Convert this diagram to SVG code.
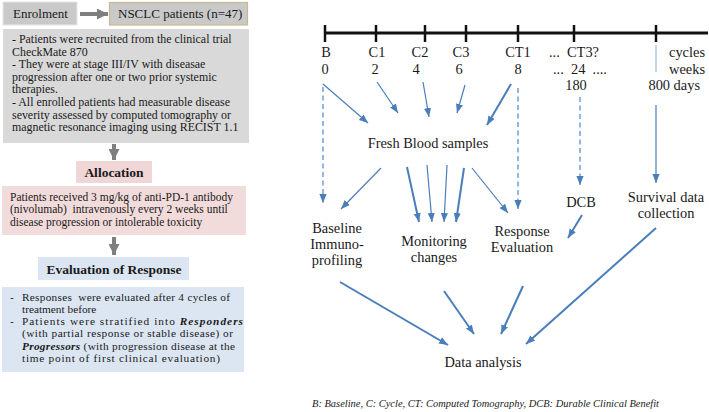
<svg xmlns="http://www.w3.org/2000/svg" width="709" height="412" viewBox="0 0 709 412">
<style>
  text { font-family: "Liberation Serif", "Times New Roman", serif; fill: #1a1a1a; }
  .lt { font-size: 11.9px; }
  .pt { font-size: 11.5px; }
  .bt { font-size: 11.3px; }
  .hd { font-size: 13px; }
  .bh { font-size: 13.5px; font-weight: bold; }
  .rt { font-size: 14.4px; }
  .mid { text-anchor: middle; }
  .end { text-anchor: end; }
  .bi { font-weight: bold; font-style: italic; }
  .cap { font-size: 10.5px; font-style: italic; }
  .gbox { fill: #d9d9d9; }
  .gray { stroke: #7f7f7f; stroke-width: 4; fill: none; }
  .bl { stroke: #4a7ebb; stroke-width: 1.2; fill: none; marker-end: url(#ah); }
  .blk { stroke: #4a7ebb; stroke-width: 2; fill: none; marker-end: url(#ah); }
  .dash { stroke: #5b8fd0; stroke-width: 1.3; stroke-dasharray: 5 3.5; fill: none; marker-end: url(#ah); }
  .tl { stroke: #111; stroke-width: 3; }
  .tk { stroke: #111; stroke-width: 2.5; }
</style>
<defs>
  <marker id="ah" viewBox="0 0 10 8" refX="10" refY="4" markerWidth="9" markerHeight="7.5" markerUnits="userSpaceOnUse" orient="auto">
    <path d="M0,0 L10,4 L0,8 z" fill="#4a7ebb"/>
  </marker>
  <marker id="gh" viewBox="0 0 10 10" refX="10" refY="5" markerWidth="11" markerHeight="11" markerUnits="userSpaceOnUse" orient="auto">
    <path d="M0,0 L10,5 L0,10 z" fill="#7f7f7f"/>
  </marker>
</defs>
<rect width="709" height="412" fill="#ffffff"/>

<!-- Left flow -->
<g id="enrolment">
  <rect x="3" y="2" width="74" height="23" fill="#c9c9c9" stroke="#e6e6e6" stroke-width="1"/>
  <text class="hd" x="13" y="18">Enrolment</text>
</g>
<g id="nsclc">
  <rect x="109.5" y="2.5" width="138" height="22.5" fill="#c9c9c9" stroke="#c8b98d" stroke-width="1.2"/>
  <text class="hd" x="118" y="18">NSCLC patients (n=47)</text>
</g>
<g id="criteria">
  <rect x="3" y="29" width="246" height="114" class="gbox"/>
  <text class="lt" x="12" y="43">- Patients were recruited from the clinical trial</text>
  <text class="lt" x="12" y="55.6">CheckMate 870</text>
  <text class="lt" x="12" y="68.2">- They were at stage III/IV with diseasae</text>
  <text class="lt" x="12" y="80.8">progression after one or two prior systemic</text>
  <text class="lt" x="12" y="93.4">therapies.</text>
  <text class="lt" x="12" y="106">- All enrolled patients had measurable disease</text>
  <text class="lt" x="12" y="118.6">severity assessed by computed tomography or</text>
  <text class="lt" x="12" y="131.2">magnetic resonance imaging using RECIST 1.1</text>
</g>
<g id="allocation">
  <rect x="76" y="161" width="76" height="22" fill="#f0d6d6"/>
  <text class="bh mid" x="114" y="177">Allocation</text>
</g>
<g id="treatment">
  <rect x="2" y="186" width="244" height="49" fill="#f2dcdb"/>
  <text class="pt" x="10" y="201">Patients received 3 mg/kg of anti-PD-1 antibody</text>
  <text class="pt" x="10" y="213.3" xml:space="preserve">(nivolumab)  intravenously every 2 weeks until</text>
  <text class="pt" x="10" y="225.6">disease progression or intolerable toxicity</text>
</g>
<g id="evaluation">
  <rect x="38" y="257" width="151" height="23" fill="#dce6f2"/>
  <text class="bh mid" x="114" y="273.5">Evaluation of Response</text>
</g>
<g id="response-text">
  <rect x="2" y="287" width="242" height="85" fill="#dce6f2"/>
  <text class="bt" x="10" y="300.5">-</text>
  <text class="bt" x="22" y="300.5" xml:space="preserve" textLength="208" lengthAdjust="spacing">Responses  were evaluated after 4 cycles of</text>
  <text class="bt" x="22" y="312.8">treatment before</text>
  <text class="bt" x="10" y="325">-</text>
  <text class="bt" x="22" y="325" textLength="221" lengthAdjust="spacing">Patients were stratified into <tspan class="bi">Responders</tspan></text>
  <text class="bt" x="22" y="337.3" textLength="211" lengthAdjust="spacing">(with partial response or stable disease) or</text>
  <text class="bt" x="22" y="349.5" textLength="213" lengthAdjust="spacing"><tspan class="bi">Progressors</tspan> (with progression disease at the</text>
  <text class="bt" x="22" y="361.8" textLength="198" lengthAdjust="spacing">time point of first clinical evaluation)</text>
</g>

<!-- Timeline -->
<g id="timeline">
  <line class="tl" x1="324" y1="33" x2="708" y2="33"/>
  <line class="tk" x1="325" y1="25" x2="325" y2="42"/>
  <line class="tk" x1="376" y1="25" x2="376" y2="42"/>
  <line class="tk" x1="425" y1="25" x2="425" y2="42"/>
  <line class="tk" x1="466" y1="25" x2="466" y2="42"/>
  <line class="tk" x1="518" y1="25" x2="518" y2="42"/>
  <line class="tk" x1="574" y1="25" x2="574" y2="42"/>
  <line class="tk" x1="656" y1="25" x2="656" y2="42"/>
  <text class="rt mid" x="326" y="57">B</text>
  <text class="rt mid" x="377" y="57">C1</text>
  <text class="rt mid" x="420" y="57">C2</text>
  <text class="rt mid" x="461" y="57">C3</text>
  <text class="rt mid" x="518" y="57">CT1</text>
  <text class="rt" x="549" y="57" xml:space="preserve">...  CT3?</text>
  <text class="rt end" x="705" y="57">cycles</text>
  <text class="rt mid" x="325" y="74">0</text>
  <text class="rt mid" x="375" y="74">2</text>
  <text class="rt mid" x="416" y="74">4</text>
  <text class="rt mid" x="459" y="74">6</text>
  <text class="rt mid" x="518" y="74">8</text>
  <text class="rt" x="553" y="74" xml:space="preserve">...  24  ....</text>
  <text class="rt end" x="705" y="74">weeks</text>
  <text class="rt mid" x="576" y="90">180</text>
  <text class="rt end" x="700" y="90">800 days</text>
</g>

<g id="fresh-blood"><text class="rt mid" x="428" y="148">Fresh Blood samples</text></g>
<g id="baseline-immuno">
  <text class="rt mid" x="337" y="233">Baseline</text>
  <text class="rt mid" x="337" y="249">Immuno-</text>
  <text class="rt mid" x="337" y="264.5">profiling</text>
</g>
<g id="monitoring">
  <text class="rt mid" x="434" y="245.5">Monitoring</text>
  <text class="rt mid" x="434" y="261.5">changes</text>
</g>
<g id="response-eval">
  <text class="rt mid" x="522" y="236">Response</text>
  <text class="rt mid" x="522" y="252">Evaluation</text>
</g>
<g id="dcb"><text class="rt mid" x="581" y="207">DCB</text></g>
<g id="survival">
  <text class="rt mid" x="666" y="202">Survival data</text>
  <text class="rt mid" x="666" y="217.5">collection</text>
</g>
<g id="data-analysis"><text class="rt mid" x="483" y="367">Data analysis</text></g>
<g id="caption"><text class="cap" x="312" y="407" textLength="347" lengthAdjust="spacingAndGlyphs">B: Baseline, C: Cycle, CT: Computed Tomography, DCB: Durable Clinical Benefit</text></g>

<!-- Connectors -->
<g id="connectors">
  <line class="gray" x1="80" y1="14" x2="108" y2="14" marker-end="url(#gh)"/>
  <line class="gray" x1="114" y1="144" x2="114" y2="160" marker-end="url(#gh)"/>
  <line class="gray" x1="114" y1="237" x2="114" y2="255" marker-end="url(#gh)"/>

  <line class="dash" x1="323" y1="87" x2="323" y2="203"/>
  <line class="bl" x1="323" y1="84" x2="368" y2="123"/>
  <line class="bl" x1="377" y1="82" x2="398" y2="113"/>
  <line class="bl" x1="423" y1="82" x2="429" y2="117"/>
  <line class="bl" x1="465" y1="85" x2="457" y2="113"/>
  <line class="blk" x1="511" y1="84" x2="487" y2="125"/>
  <line class="dash" x1="518" y1="88" x2="518" y2="209"/>
  <line class="dash" x1="580" y1="97" x2="580" y2="185"/>
  <line x1="656" y1="45" x2="656" y2="72" stroke="#9dbbe2" stroke-width="1.2"/>
  <line class="bl" x1="656" y1="105" x2="656" y2="183"/>

  <line class="bl" x1="381" y1="168" x2="341" y2="209"/>
  <line class="blk" x1="407" y1="167" x2="419" y2="222"/>
  <line class="bl" x1="427" y1="165" x2="432" y2="222"/>
  <line class="bl" x1="447" y1="165" x2="444" y2="222"/>
  <line class="blk" x1="464" y1="168" x2="456" y2="222"/>
  <line class="bl" x1="472" y1="168" x2="508" y2="213"/>
  <line class="blk" x1="582" y1="215" x2="568" y2="238"/>

  <line class="blk" x1="340" y1="282" x2="448" y2="345"/>
  <line class="blk" x1="444" y1="291" x2="474" y2="334"/>
  <line class="blk" x1="523" y1="286" x2="501" y2="334"/>
  <line class="blk" x1="656" y1="228" x2="526" y2="344"/>
</g>
</svg>
